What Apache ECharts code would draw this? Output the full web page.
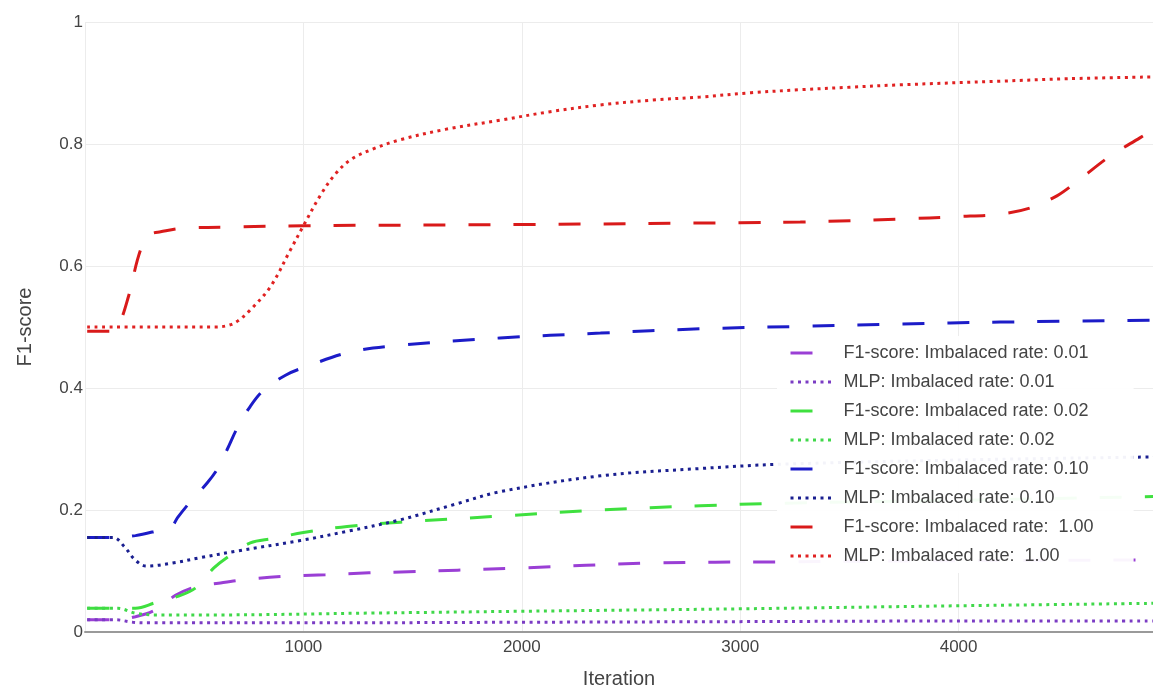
<!DOCTYPE html>
<html>
<head>
<meta charset="utf-8">
<script src="https://cdn.jsdelivr.net/npm/echarts@6/dist/echarts.min.js"></script>
<style>html,body{margin:0;padding:0;background:#fff}#c{width:1153px;height:689px}</style>
</head>
<body>
<div id="c"></div>
<script>
// [iteration, F1-score]
const f1_001 = [[10,0.02],[130,0.02],[231,0.025],[322,0.036],[414,0.06],[505,0.074],[611,0.08],[711,0.085],[900,0.091],[1100,0.094],[1300,0.097],[1412,0.098],[2000,0.105],[2588,0.113],[3183,0.115],[4000,0.117],[4890,0.118]];
const mlp_001 = [[10,0.02],[140,0.02],[220,0.016],[300,0.015],[1000,0.015],[2000,0.016],[3000,0.017],[4000,0.018],[4890,0.018]];
const f1_002 = [[10,0.039],[130,0.039],[231,0.039],[322,0.048],[414,0.057],[505,0.072],[590,0.105],[666,0.126],[757,0.146],[858,0.153],[1000,0.163],[1200,0.173],[1444,0.18],[1900,0.19],[2360,0.2],[2817,0.207],[3183,0.211],[4000,0.216],[4890,0.222]];
const mlp_002 = [[10,0.039],[150,0.039],[230,0.031],[320,0.028],[600,0.028],[1300,0.031],[2000,0.034],[3000,0.038],[4000,0.043],[4890,0.047]];
const f1_010 = [[10,0.155],[125,0.155],[231,0.158],[332,0.166],[395,0.172],[423,0.187],[474,0.21],[561,0.245],[611,0.27],[652,0.3],[698,0.335],[757,0.37],[817,0.396],[918,0.421],[1005,0.434],[1215,0.459],[1444,0.47],[1900,0.482],[2360,0.49],[2817,0.497],[3275,0.501],[3732,0.505],[4190,0.508],[4890,0.511]];
const mlp_010 = [[10,0.155],[130,0.155],[180,0.14],[230,0.118],[280,0.108],[400,0.113],[530,0.122],[700,0.133],[986,0.15],[1200,0.165],[1444,0.184],[1700,0.21],[1900,0.23],[2360,0.256],[2817,0.268],[3183,0.275],[4000,0.282],[4890,0.287]];
const f1_100 = [[10,0.493],[115,0.493],[150,0.5],[199,0.55],[240,0.61],[268,0.638],[300,0.652],[346,0.656],[451,0.662],[700,0.664],[1000,0.666],[2000,0.668],[3000,0.671],[3275,0.672],[3732,0.677],[4000,0.681],[4190,0.685],[4327,0.695],[4450,0.715],[4533,0.736],[4693,0.78],[4830,0.81],[4890,0.823]];
const mlp_100 = [[10,0.5],[300,0.5],[600,0.5],[660,0.503],[700,0.51],[757,0.528],[849,0.566],[940,0.626],[1000,0.666],[1078,0.716],[1140,0.748],[1215,0.774],[1320,0.792],[1444,0.807],[1650,0.824],[1900,0.839],[2130,0.853],[2360,0.864],[2600,0.872],[2817,0.877],[3050,0.884],[3275,0.889],[3500,0.893],[3732,0.897],[4190,0.903],[4500,0.907],[4890,0.91]];

const names = ['F1-score: Imbalaced rate: 0.01','MLP: Imbalaced rate: 0.01','F1-score: Imbalaced rate: 0.02','MLP: Imbalaced rate: 0.02','F1-score: Imbalaced rate: 0.10','MLP: Imbalaced rate: 0.10','F1-score: Imbalaced rate:  1.00','MLP: Imbalaced rate:  1.00'];
const datas = [f1_001, mlp_001, f1_002, mlp_002, f1_010, mlp_010, f1_100, mlp_100];
const colors = ['#9a3fd5','#7b3cc4','#3fe03f','#40d84a','#1c1cc8','#1a1f90','#d91a1a','#e02222'];

const series = datas.map((d, i) => ({
  name: names[i],
  type: 'line',
  data: d,
  symbol: 'none',
  smooth: 0.35,
  color: colors[i],
  lineStyle: {
    color: colors[i],
    width: 3,
    type: i % 2 === 0 ? [22, 23] : [3, 4.5],
    cap: 'butt'
  },
  emphasis: {disabled: true}
}));

const FONT = '"Liberation Sans", Arial, Helvetica, sans-serif';
const chart = echarts.init(document.getElementById('c'), null, {renderer: 'canvas'});
chart.setOption({
  animation: false,
  backgroundColor: '#fff',
  textStyle: {fontFamily: FONT},
  grid: {left: 85, right: 0, top: 22, bottom: 57, containLabel: false, outerBoundsMode: 'none'},
  xAxis: {
    type: 'value', min: 0, max: 4890, interval: 1000,
    name: 'Iteration', nameLocation: 'middle', nameGap: 37,
    nameTextStyle: {fontSize: 20, color: '#444', fontFamily: FONT},
    axisLine: {show: true, lineStyle: {color: '#9a9a9a', width: 2}},
    axisTick: {show: false},
    axisLabel: {color: '#444', fontSize: 17, margin: 7, showMinLabel: false, showMaxLabel: false, fontFamily: FONT,
      formatter: v => String(v)},
    splitLine: {show: true, lineStyle: {color: '#ececec', width: 1}}
  },
  yAxis: {
    type: 'value', min: 0, max: 1, interval: 0.2,
    name: 'F1-score', nameLocation: 'middle', nameGap: 50,
    nameTextStyle: {fontSize: 20, color: '#444', fontFamily: FONT},
    axisLine: {show: false},
    axisTick: {show: false},
    axisLabel: {color: '#444', fontSize: 17, margin: 2, fontFamily: FONT},
    splitLine: {show: true, lineStyle: {color: '#ececec', width: 1}}
  },
  legend: {
    orient: 'vertical',
    left: 777, top: 336,
    padding: [8, 40, 8, 12],
    backgroundColor: 'rgba(255,255,255,0.95)',
    itemWidth: 42, itemHeight: 14, itemGap: 11,
    itemStyle: {opacity: 0},
    lineStyle: {width: 3},
    textStyle: {color: '#444', fontSize: 18, padding: [0, 0, 0, 6], fontFamily: FONT},
    data: names
  },
  series: series
});
</script>
</body>
</html>
